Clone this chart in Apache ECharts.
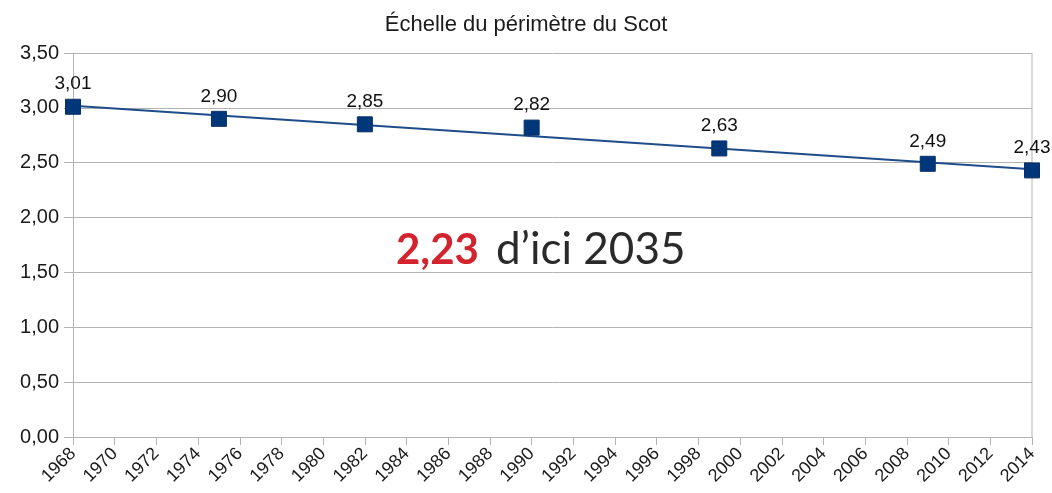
<!DOCTYPE html>
<html>
<head>
<meta charset="utf-8">
<script src="https://cdn.jsdelivr.net/npm/echarts@6/dist/echarts.min.js"></script>
<style>
  html, body { margin: 0; padding: 0; background: #fff; }
  #chart { width: 1052px; height: 493px; }
</style>
</head>
<body>
<div id="chart"></div>
<script>
const years = [1968, 1975, 1982, 1990, 1999, 2009, 2014]
const values = [3.01, 2.90, 2.85, 2.82, 2.63, 2.49, 2.43]
// trend line ends
const trendYears = [1968, 2014]
const trendValues = [3.02, 2.44]

const fmt = v => v.toFixed(2).replace('.', ',')
const font = 'Liberation Sans, Arial, sans-serif'

const chart = echarts.init(document.getElementById('chart'), null, { renderer: 'canvas' })

chart.setOption({
  backgroundColor: '#fff',
  animation: false,
  title: {
    text: 'Échelle du périmètre du Scot',
    left: 'center', top: 9,
    textStyle: { fontFamily: font, fontSize: 22, fontWeight: 'normal', color: '#1a1a1a' },
  },
  grid: { left: 73, right: 20, top: 53, bottom: 56 },
  xAxis: {
    type: 'value', min: 1968, max: 2014, interval: 2,
    axisLine: { lineStyle: { color: '#b3b3b3' } },
    axisTick: { length: 8, lineStyle: { color: '#b3b3b3' } },
    axisLabel: { rotate: 45, fontFamily: font, fontSize: 18, color: '#1a1a1a', margin: 14, formatter: v => String(v) },
    splitLine: { show: false },
  },
  yAxis: {
    type: 'value', min: 0, max: 3.5, interval: 0.5,
    axisLine: { show: true, lineStyle: { color: '#b3b3b3' } },
    axisTick: { show: true, length: 9, lineStyle: { color: '#b3b3b3' } },
    axisLabel: { fontFamily: font, fontSize: 20, color: '#1a1a1a', margin: 14, formatter: v => fmt(v) },
    splitLine: { lineStyle: { color: '#b3b3b3' } },
  },
  graphic: [
    { type: 'line', shape: { x1: 1032, y1: 53, x2: 1032, y2: 437 }, style: { stroke: '#b3b3b3', lineWidth: 1 }, silent: true },
    {
      type: 'text', x: 396, y: 250,
      style: {
        text: '{r|2,23}{k|d\u2019ici 2035}',
        verticalAlign: 'middle',
        rich: {
          r: { fontFamily: 'Lato, sans-serif', fontWeight: 'bold', fontSize: 42, fill: '#d3232e', padding: [0, 17, 0, 0] },
          k: { fontFamily: 'Lato, sans-serif', fontWeight: 'normal', fontSize: 44, fill: '#2a2a2a' },
        },
      },
    },
  ],
  series: [
    {
      type: 'line', data: trendYears.map((y, i) => [y, trendValues[i]]),
      showSymbol: false, silent: true,
      lineStyle: { color: '#1f4d8a', width: 2 },
      z: 2,
    },
    {
      type: 'scatter', data: years.map((y, i) => [y, values[i]]),
      symbol: 'rect', symbolSize: 15,
      itemStyle: { color: '#00377a', borderColor: '#0b2f66', borderWidth: 1, opacity: 1 },
      label: {
        show: true, position: 'top', distance: 5,
        fontFamily: font, fontSize: 19, color: '#111',
        formatter: p => fmt(p.value[1]),
      },
      z: 3,
    },
  ],
})
</script>
</body>
</html>
